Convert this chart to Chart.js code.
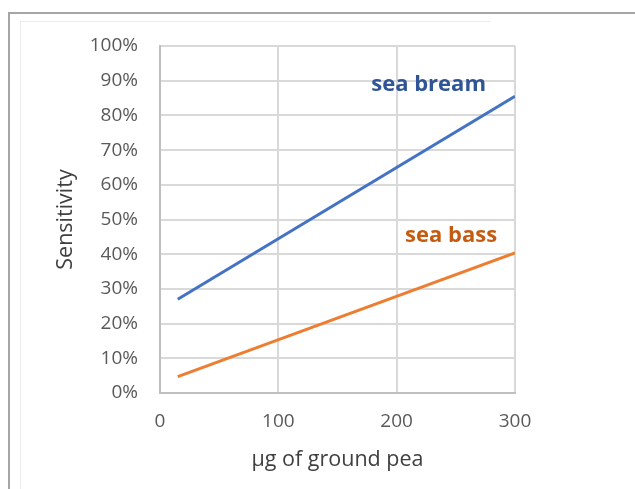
<!DOCTYPE html>
<html>
<head>
<meta charset="utf-8">
<script src="https://cdn.jsdelivr.net/npm/chart.js@4"></script>
<style>
    html, body { margin: 0; padding: 0; background: #fff; overflow: hidden; }
    #frame { position: absolute; left: 8px; top: 12px; width: 700px; height: 600px;
             border-left: 2px solid #a6a6a6; border-top: 2px solid #a6a6a6; }
    #inner { position: absolute; left: 20px; top: 21px; width: 470px; height: 600px;
             border-left: 1px solid #ececec; border-top: 1px solid #ececec; }
    #chart { position: absolute; left: 0; top: 0; }
</style>
</head>
<body>
<div id="frame"></div>
<div id="inner"></div>
<canvas id="chart" width="635" height="489"></canvas>
<script>
// data
const doseValues = [15, 300];            // µg of ground pea
const seaBreamValues = [27, 85.5];       // sensitivity, %
const seaBassValues = [4.7, 40.4];       // sensitivity, %
const xTicks = [0, 100, 200, 300];
const yTicks = [0, 10, 20, 30, 40, 50, 60, 70, 80, 90, 100];

// series name labels, anchored in data units
const seriesLabels = [
    { text: 'sea bream', x: 227, y: 88.7, color: '#2f5597' },
    { text: 'sea bass', x: 246, y: 45.2, color: '#c55a11' }
];

const toPoints = (xs, ys) => xs.map((x, i) => ({ x: x, y: ys[i] }));

// draws the series names inside the plot
const nameLabels = {
    id: 'nameLabels',
    afterDatasetsDraw(chart) {
        const { ctx, scales } = chart;
        ctx.save();
        ctx.font = 'bold 22px "Open Sans"';
        ctx.textAlign = 'center';
        ctx.textBaseline = 'middle';
        seriesLabels.forEach(l => {
            ctx.fillStyle = l.color;
            ctx.fillText(l.text, scales.x.getPixelForValue(l.x), scales.y.getPixelForValue(l.y));
        });
        ctx.restore();
    }
};

const tickFont = { family: 'Open Sans', size: 19 };
const titleFont = { family: 'Open Sans', size: 21.5 };

const sensitivityChart = new Chart(document.getElementById('chart'), {
    type: 'line',
    data: {
        datasets: [{
            label: 'sea bream',
            data: toPoints(doseValues, seaBreamValues),
            borderColor: '#4472c4',
            borderWidth: 3,
            pointRadius: 0,
            tension: 0
        }, {
            label: 'sea bass',
            data: toPoints(doseValues, seaBassValues),
            borderColor: '#ed7d31',
            borderWidth: 3,
            pointRadius: 0,
            tension: 0
        }]
    },
    options: {
        responsive: false,
        animation: false,
        layout: {
            padding: { left: 0, top: 46, right: 120, bottom: 0 }
        },
        scales: {
            x: {
                type: 'linear',
                min: 0,
                max: 300,
                afterBuildTicks: s => { s.ticks = xTicks.map(v => ({ value: v })); },
                afterFit: s => { s.height = 96; },
                grid: { color: '#d9d9d9', lineWidth: 2, drawTicks: false },
                border: { display: true, color: '#bfbfbf', width: 2 },
                ticks: { color: '#595959', font: tickFont, padding: 17, maxRotation: 0 },
                title: {
                    display: true,
                    text: 'µg of ground pea',
                    color: '#404040',
                    font: titleFont,
                    padding: { top: 0, bottom: 16 }
                }
            },
            y: {
                min: 0,
                max: 100,
                afterBuildTicks: s => { s.ticks = yTicks.map(v => ({ value: v })); },
                afterFit: s => { s.width = 160; },
                grid: { color: '#d9d9d9', lineWidth: 2, drawTicks: false },
                border: { display: true, color: '#bfbfbf', width: 2 },
                ticks: {
                    color: '#595959',
                    font: tickFont,
                    padding: 22,
                    callback: v => v + '%'
                },
                title: {
                    display: true,
                    text: 'Sensitivity',
                    color: '#404040',
                    font: titleFont,
                    padding: { top: 53, bottom: 0 }
                }
            }
        },
        plugins: {
            legend: { display: false },
            tooltip: { enabled: false }
        }
    },
    plugins: [nameLabels]
});
</script>
</body>
</html>
